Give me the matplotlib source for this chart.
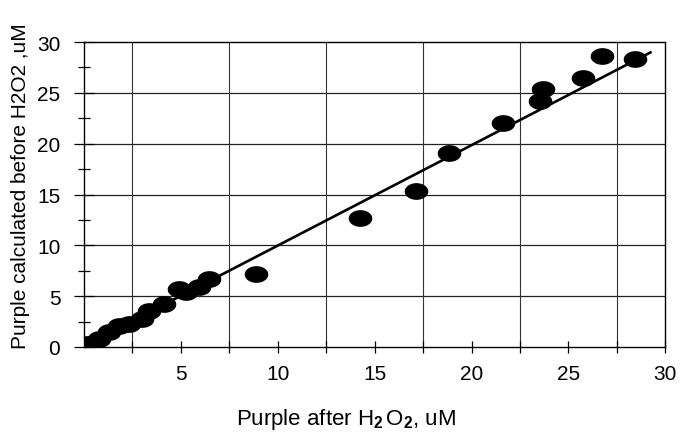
import numpy as np
import matplotlib
matplotlib.use("Agg")
import matplotlib.pyplot as plt
from matplotlib.path import Path

# purple after H2O2 (x) vs purple calculated before H2O2 (y), uM
after_h2o2 = [0.17, 0.78, 1.29, 1.81, 2.33, 3.0, 3.36, 4.14, 4.91, 5.26, 5.95,
              6.47, 8.88, 14.24, 17.12, 18.85, 21.64, 23.54, 23.68, 25.75,
              26.73, 28.45]
calc_before = [0.3, 0.79, 1.44, 2.1, 2.26, 2.75, 3.57, 4.23, 5.7, 5.37, 5.87,
               6.69, 7.18, 12.66, 15.37, 19.08, 22.03, 24.22, 25.37, 26.42,
               28.58, 28.32]

# regression line end points as drawn
fit_x = [0.0, 29.23]
fit_y = [0.1, 28.98]

x_labels = ["5", "10", "15", "20", "25", "30"]
x_label_pos = [5, 10, 15, 20, 25, 30]
y_labels = ["0", "5", "10", "15", "20", "25", "30"]
y_label_pos = [0, 5, 10, 15, 20, 25, 30]

plt.rcParams["font.family"] = ["Liberation Sans", "DejaVu Sans"]
plt.rcParams["mathtext.fontset"] = "custom"
plt.rcParams["mathtext.rm"] = "Liberation Sans"
plt.rcParams["mathtext.it"] = "Liberation Sans"
plt.rcParams["mathtext.bf"] = "Liberation Sans:bold"

# flattened ellipse marker (scanned blobs are wider than tall)
t = np.linspace(0, 2*np.pi, 40)
ellipse = Path(np.column_stack([1.45*np.cos(t), np.sin(t)]), closed=True)

fig = plt.figure(figsize=(6.8, 4.35), dpi=100)
ax = fig.add_axes([0.1235, 0.2, 0.855, 0.701])

ax.plot(fit_x, fit_y, color="black", lw=1.9, zorder=3)
ax.plot(after_h2o2, calc_before, ls="none", marker=ellipse, ms=16,
        color="black", mec="black", zorder=4)

ax.set_xlim(0, 30)
ax.set_ylim(0, 30)

# grid: horizontal at 5s, vertical offset by 2.5
for yv in y_label_pos[1:-1]:
    ax.axhline(yv, color="#222", lw=0.9, zorder=1)
for xv in np.arange(2.5, 30, 5):
    ax.axvline(xv, color="#333", lw=0.8, zorder=1)

ax.set_xticks(x_label_pos)
ax.set_xticklabels(x_labels)
ax.set_xticks(np.arange(2.5, 30, 5), minor=True)
ax.set_yticks(y_label_pos)
ax.set_yticklabels(y_labels)
ax.set_yticks(np.arange(2.5, 30, 5), minor=True)

ax.tick_params(axis="both", which="both", direction="inout", length=8,
               width=0.9, labelsize=15, color="black")
ax.tick_params(axis="x", which="major", pad=8)
ax.tick_params(axis="y", which="major", pad=10)
ax.tick_params(axis="y", which="major", length=14)

for s in ax.spines.values():
    s.set_linewidth(1.0)
    s.set_color("black")

ax.set_xlabel("Purple after H$_{\\mathbf{2}}\\,$O$_{\\mathbf{2}}$, uM", fontsize=16)
ax.xaxis.set_label_coords(0.451, -0.195)
ax.set_ylabel("Purple calculated before H2O2 ,uM", fontsize=15)
ax.yaxis.set_label_coords(-0.092, 0.53)

plt.savefig("out.png", dpi=100)
plt.close(fig)
